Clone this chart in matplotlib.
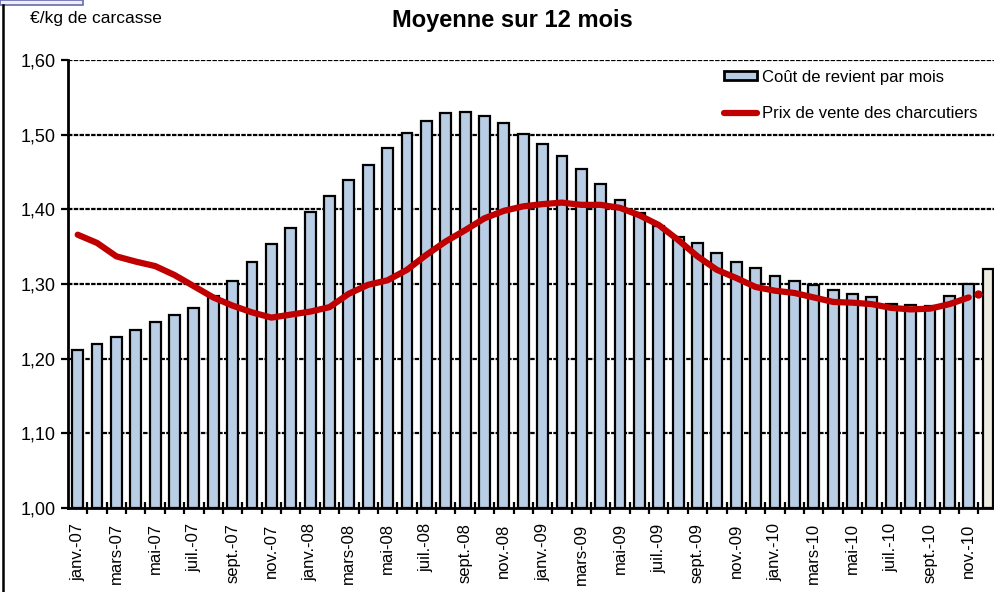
import matplotlib
matplotlib.use("Agg")
import matplotlib.pyplot as plt
from matplotlib.patches import Rectangle, Patch
from matplotlib.lines import Line2D
import numpy as np

plt.rcParams['font.family'] = ['Liberation Sans', 'DejaVu Sans']

months = []
abbr = ['janv.', 'févr.', 'mars', 'avr.', 'mai', 'juin', 'juil.', 'août',
        'sept.', 'oct.', 'nov.', 'déc.']
years = ['07', '08', '09', '10']
for y in years:
    for a in abbr:
        months.append(f"{a}-{y}")

cout = [1.211, 1.220, 1.229, 1.239, 1.249, 1.258, 1.268, 1.284, 1.304, 1.329, 1.353, 1.375,
        1.396, 1.418, 1.439, 1.459, 1.482, 1.502, 1.518, 1.529, 1.530, 1.525, 1.515, 1.501,
        1.488, 1.471, 1.454, 1.434, 1.413, 1.395, 1.378, 1.363, 1.355, 1.342, 1.330, 1.321,
        1.311, 1.304, 1.298, 1.292, 1.287, 1.282, 1.273, 1.272, 1.271, 1.284, 1.300, 1.320]

prix = [1.366, 1.355, 1.337, 1.330, 1.324, 1.312, 1.297, 1.282, 1.271, 1.262,
        1.255, 1.259, 1.263, 1.269, 1.287, 1.299, 1.305, 1.319, 1.339, 1.357,
        1.372, 1.388, 1.398, 1.404, 1.407, 1.409, 1.406, 1.406, 1.402, 1.392,
        1.379, 1.359, 1.337, 1.319, 1.308, 1.296, 1.291, 1.288, 1.282, 1.276,
        1.275, 1.273, 1.268, 1.266, 1.267, 1.273, 1.282]

# isolated last point of the price series
prix_extra_x = [46.5]
prix_extra_y = [1.287]

yticks = [1.00, 1.10, 1.20, 1.30, 1.40, 1.50, 1.60]
ytick_labels = ["1,00", "1,10", "1,20", "1,30", "1,40", "1,50", "1,60"]

W, H = 994, 592
fig = plt.figure(figsize=(W / 100, H / 100), dpi=100)
fig.patch.set_facecolor('white')

left_px, bottom_px, top_px = 68, 508, 60
cat_w = 19.37
ax_w = cat_w * len(cout)
ax = fig.add_axes([left_px / W, (H - bottom_px) / H, ax_w / W, (bottom_px - top_px) / H])

x = np.arange(len(cout))
colors = ['#B9CDE5'] * (len(cout) - 1) + ['#EEECE1']
ax.bar(x, np.array(cout) - 1.0, bottom=1.0, width=0.56, color=colors,
       edgecolor='black', linewidth=1.6, zorder=3)

ax.plot(np.arange(len(prix)), prix, color='#C00000', linewidth=4.5,
        solid_capstyle='round', solid_joinstyle='round', zorder=4)
ax.plot(prix_extra_x, prix_extra_y, 'o', color='#C00000', markersize=5, zorder=4)

ax.set_xlim(-0.5, len(cout) - 0.5)
ax.set_ylim(1.0, 1.6)

for v in yticks[1:]:
    ax.axhline(v, color='black', linewidth=1.6, linestyle=(0, (2, 0.6)), zorder=1)

for s in ['top', 'right']:
    ax.spines[s].set_visible(False)
ax.spines['left'].set_linewidth(2)
ax.spines['bottom'].set_linewidth(2)
ax.spines['left'].set_zorder(5)
ax.spines['bottom'].set_zorder(5)

ax.set_yticks(yticks)
ax.set_yticklabels(ytick_labels, fontsize=13)
ax.tick_params(axis='y', direction='out', length=5, width=1.6, pad=4)

ax.set_xticks(x[::2])
ax.set_xticklabels(months[::2], rotation=90, fontsize=12)
ax.set_xticks(np.arange(len(cout)) + 0.5, minor=True)
ax.tick_params(axis='x', which='major', length=0, pad=11)
ax.tick_params(axis='x', which='minor', direction='inout', length=8, width=1.6)

fig.text(512 / W, 1 - 20 / H, "Moyenne sur 12 mois", ha='center', va='center',
         fontsize=17, fontweight='bold')
fig.text(30 / W, 1 - 18 / H, "€/kg de carcasse", ha='left', va='center', fontsize=12.5)

handles = [Patch(facecolor='#B9CDE5', edgecolor='black', linewidth=2),
           Line2D([0], [0], color='#C00000', linewidth=4.5, solid_capstyle='round')]
labels = ["Coût de revient par mois", "Prix de vente des charcutiers"]
fig.legend(handles, labels, loc='upper left', bbox_to_anchor=(717 / W, 1 - 63 / H),
           frameon=False, fontsize=12, handlelength=2.0, handleheight=0.45,
           handletextpad=0.3, labelspacing=1.3, borderaxespad=0)

# decorative frame pieces around the cropped image
fig.add_artist(Rectangle((0, 1 - 5 / H), 83 / W, 5 / H, transform=fig.transFigure,
                         facecolor='#EEEEF4', edgecolor='#6A6AB0', linewidth=1.2))
fig.add_artist(Line2D([3 / W, 3 / W], [0, 1 - 5 / H], transform=fig.transFigure,
                      color='black', linewidth=1.8))

fig.savefig('out.png', dpi=100)
